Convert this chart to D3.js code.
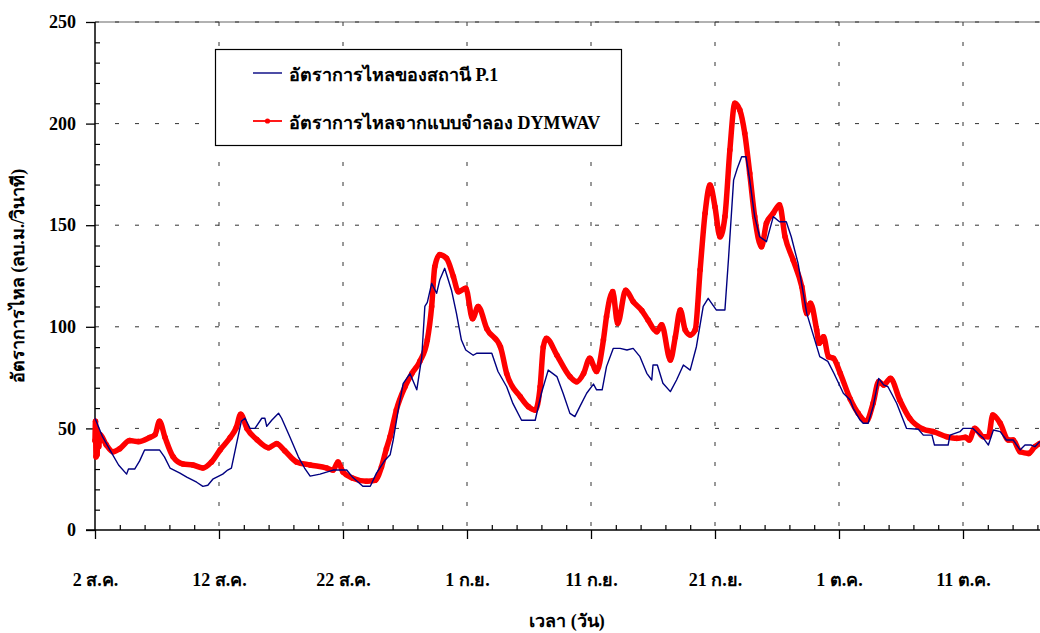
<!DOCTYPE html>
<html>
<head>
<meta charset="utf-8">
<script src="https://cdn.jsdelivr.net/npm/d3@7"></script>
<style>
  html, body { margin: 0; padding: 0; background: #fff; }
  svg { display: block; font-family: "Liberation Serif", "Times New Roman", "DejaVu Serif", serif; font-weight: bold; }
</style>
</head>
<body>
<svg id="chart" width="1040" height="633"></svg>
<script>
// ---- data (days since 2 Aug 00:00, flow in m3/s) ----
const observedDays = [0,0.1,0.6,1.2,1.9,2.55,2.7,3.2,3.6,4.0,5.2,5.6,6.05,6.85,7.4,8.2,8.7,9.1,9.5,10.3,10.7,11.0,11.4,11.8,12.1,12.5,12.9,13.45,13.7,13.85,14.25,14.8,15.05,15.7,16.4,16.9,17.35,18.15,19.2,20.3,20.8,21.6,22.2,22.7,23.4,23.8,24.05,24.5,24.85,25.4,25.95,26.35,26.6,26.8,27.15,27.55,27.8,28.2,28.75,29.15,29.55,29.9,30.5,30.8,32.0,32.5,33.2,33.7,34.4,35.5,36.0,36.55,37.25,37.75,38.3,38.7,39.1,39.65,40.2,40.45,40.9,41.25,41.8,42.35,42.9,43.4,43.95,44.5,44.9,45.0,45.35,45.8,46.4,46.9,47.45,48.0,48.5,49.05,49.45,50.1,50.8,51.1,51.5,51.8,52.15,52.5,52.8,53.2,53.6,54.15,54.7,55.2,55.75,56.15,56.7,57.4,58.45,59.1,59.6,60.35,60.9,61.15,61.7,61.95,62.35,62.75,63.2,63.6,63.95,64.65,65.45,66.4,66.8,67.5,67.7,68.8,68.95,69.75,70.0,70.8,71.2,71.65,72.05,72.45,73.0,73.5,74.05,74.6,75.0,75.5,75.8,76.2];
const observedFlow = [55,53.5,46,39.4,32,27.5,30,30,34,39.4,39.4,36,30.5,28,26,23.5,21.5,22,25,27.5,29.5,30.5,42,53.5,55,50,50,55,55,51,54,57.5,55,46,36,30.5,26.5,27.5,29.5,29.5,25.8,21.5,21.5,28,34.5,37,44.3,60.7,72,77,69,85,110,112,121.4,116.5,123,128.8,118,106.6,93.5,88.6,86,87,87,78,70.5,62.3,54,54,67.3,78.7,75.5,67.3,57.4,55.8,60.7,67.3,71.8,69,69,80.4,89.4,89.4,88.6,89.4,85.3,77.1,73.8,81.2,81.2,72.2,68.1,73.8,81.2,78.7,90.2,110,114,108.3,108.3,134.5,172.2,178,183.7,183.7,172.2,154.2,144.3,141.9,154.2,151.7,151.7,144.3,131.2,106.6,85.3,83,77,67.3,64,59.9,54.1,52.5,52.5,60.7,74.6,71.4,70.5,62.4,50,49.6,46.7,46.7,41.8,41.8,46.7,48.4,50,50,47.6,45.1,41.8,49.2,48.4,44.3,44.3,39.4,41.8,41.8,41,43.5];

const modelDays = [0,0.04,0.08,0.12,0.17,0.22,0.3,0.4,0.9,1.45,2.0,2.8,3.5,4.4,4.85,5.2,5.65,6.3,7.1,7.9,8.7,9.4,10.1,10.9,11.4,11.75,12.25,13.05,14.0,14.65,15.3,16.25,17.35,18.7,19.2,19.6,20.0,20.8,21.9,22.6,23.1,23.5,23.8,24.3,25.0,25.55,26.2,26.8,27.15,27.4,27.8,28.35,28.9,29.3,29.9,30.45,30.9,31.6,32.7,33.2,34.3,34.95,35.5,35.9,36.15,36.4,37.25,38.3,38.85,39.4,39.9,40.45,41.0,41.25,41.75,42.15,42.8,43.4,44.1,44.6,45.3,45.7,46.4,46.8,47.2,47.6,48.0,48.4,48.8,49.2,49.6,50.0,50.4,50.8,51.2,51.6,52.0,52.4,52.8,53.2,53.75,54.15,54.7,55.2,55.65,56.3,57.0,57.4,57.7,58.2,58.4,58.75,59.15,59.55,60.1,60.9,61.55,62.2,62.75,63.2,63.6,64.15,64.9,65.7,66.8,67.6,68.7,69.5,70.2,70.5,70.95,71.65,72.05,72.4,73.0,73.65,74.05,74.6,75.3,75.8,76.2];
const modelFlow = [44,53.5,36,50,37,48,41,47,42,38.5,40,44,43.5,45.5,47,53.5,45.5,36,32.5,32,30.5,33.5,39.5,45.5,50.5,57,50,44.5,40.5,42.5,39,33.5,32,30.5,29.5,33.5,28.5,25.5,24,24.5,31,40,46,59,70.5,77,83,93.5,110,129.5,135.5,133.7,124.7,117.3,119,104,110,99,90,77,65.6,60.7,59,70.5,90,94.3,86,75.5,73,77,84.5,78,93.5,105,117.3,101.7,118,112.4,108,103.3,97.6,101,83.7,95,108.3,98.4,96,98.4,128,155.9,169.8,159,144.3,154.2,187,210,206.7,195.2,175.5,154.2,139.4,151,155.9,160,144.3,132.9,119.7,106.6,111.6,98.4,91.9,95.1,85.3,84.5,77.1,64.5,57.4,53.5,62.4,73,71.4,74.6,64,55,49.6,48.4,45.9,45.1,45.6,44.3,50,45.9,45.9,56.6,52.5,44.3,44.3,38.5,37.7,41,42.6];

const xTickDays = [0,10,20,30,40,50,60,70];
const xTickLabels = ["2 ส.ค.","12 ส.ค.","22 ส.ค.","1 ก.ย.","11 ก.ย.","21 ก.ย.","1 ต.ค.","11 ต.ค."];
const yTicks = [0,50,100,150,200,250];
const seriesNames = ["อัตราการไหลของสถานี P.1","อัตราการไหลจากแบบจำลอง DYMWAV"];
const yTitle = "อัตราการไหล (ลบ.ม./วินาที)";
const xTitle = "เวลา (วัน)";

// ---- layout ----
const svg = d3.select("#chart");
const plotLeft = 95, plotBottom = 530, plotTop = 22;
const x = d3.scaleLinear().domain([0, 77]).range([plotLeft, plotLeft + 12.4 * 77]);
const y = d3.scaleLinear().domain([0, 250]).range([plotBottom, plotTop]);
const xEnd = 1040;

// top border (gray)
svg.append("line").attr("x1", plotLeft).attr("x2", xEnd).attr("y1", y(250)).attr("y2", y(250))
  .attr("stroke", "#999").attr("stroke-width", 1.3);

// gridlines
const grid = svg.append("g").attr("stroke", "#333").attr("stroke-width", 1).attr("stroke-dasharray", "4,16");
yTicks.filter(t => t > 0).forEach(t => {
  grid.append("line").attr("x1", plotLeft).attr("x2", xEnd).attr("y1", y(t)).attr("y2", y(t));
});
xTickDays.filter(t => t > 0).forEach(t => {
  grid.append("line").attr("x1", x(t)).attr("x2", x(t)).attr("y1", plotTop).attr("y2", plotBottom);
});

const fontFam = "'Liberation Serif', 'Times New Roman', serif";

// y axis
const yAxis = d3.axisLeft(y).tickValues(yTicks).tickSize(9).tickPadding(10).tickFormat(d3.format("d"));
const gy = svg.append("g").attr("transform", `translate(${plotLeft},0)`).call(yAxis);
gy.select(".domain").remove();
gy.selectAll(".tick line").attr("stroke", "#000").attr("stroke-width", 1.3);
gy.selectAll(".tick text").attr("font-size", 18).attr("font-weight", "bold").attr("fill", "#000")
  .attr("font-family", fontFam);
const yMinor = d3.axisRight(y).tickValues(d3.range(0, 251, 10).filter(v => v % 50 !== 0)).tickSize(5).tickFormat("");
const gym = svg.append("g").attr("transform", `translate(${plotLeft},0)`).call(yMinor);
gym.select(".domain").remove();
gym.selectAll(".tick line").attr("stroke", "#000").attr("stroke-width", 1.2);
svg.append("line").attr("x1", plotLeft).attr("x2", plotLeft).attr("y1", plotTop).attr("y2", plotBottom + 0.5)
  .attr("stroke", "#000").attr("stroke-width", 1.5);

// x axis
const xAxis = d3.axisBottom(x).tickValues(xTickDays).tickSize(9).tickPadding(34)
  .tickFormat((d, i) => xTickLabels[i]);
const gx = svg.append("g").attr("transform", `translate(0,${plotBottom})`).call(xAxis);
gx.select(".domain").remove();
gx.selectAll(".tick line").attr("stroke", "#000").attr("stroke-width", 1.3);
gx.selectAll(".tick text").attr("font-size", 18).attr("font-weight", "bold").attr("fill", "#000")
  .attr("font-family", fontFam);
const xMinor = d3.axisTop(x).tickValues(d3.range(2, 77, 2).filter(v => v % 10 !== 0)).tickSize(5).tickFormat("");
const gxm = svg.append("g").attr("transform", `translate(0,${plotBottom})`).call(xMinor);
gxm.select(".domain").remove();
gxm.selectAll(".tick line").attr("stroke", "#000").attr("stroke-width", 1.2);
svg.append("line").attr("x1", plotLeft - 9).attr("x2", xEnd).attr("y1", plotBottom).attr("y2", plotBottom)
  .attr("stroke", "#000").attr("stroke-width", 1.5);

// series
const obs = observedDays.map((d, i) => [d, observedFlow[i]]);
const mod = modelDays.map((d, i) => [d, modelFlow[i]]);

svg.append("path").datum(mod)
  .attr("fill", "none").attr("stroke", "#ff0000").attr("stroke-width", 5.5)
  .attr("stroke-linejoin", "round").attr("stroke-linecap", "round")
  .attr("d", d3.line().x(d => x(d[0])).y(d => y(d[1])).curve(d3.curveMonotoneX));
svg.append("g").selectAll("circle").data(mod).join("circle")
  .attr("cx", d => x(d[0])).attr("cy", d => y(d[1])).attr("r", 2.8).attr("fill", "#ff0000");

svg.append("path").datum(obs)
  .attr("fill", "none").attr("stroke", "#000080").attr("stroke-width", 1.4)
  .attr("stroke-linejoin", "round")
  .attr("d", d3.line().x(d => x(d[0])).y(d => y(d[1])));

// legend
const lg = svg.append("g");
lg.append("rect").attr("x", 215.5).attr("y", 49.5).attr("width", 406).attr("height", 96)
  .attr("fill", "#fff").attr("stroke", "#000").attr("stroke-width", 1.2);
lg.append("line").attr("x1", 253).attr("x2", 282).attr("y1", 73).attr("y2", 73)
  .attr("stroke", "#000080").attr("stroke-width", 1.4);
lg.append("line").attr("x1", 253).attr("x2", 282).attr("y1", 121).attr("y2", 121)
  .attr("stroke", "#ff0000").attr("stroke-width", 1.8);
lg.append("circle").attr("cx", 267.5).attr("cy", 121).attr("r", 2.6).attr("fill", "#ff0000");
lg.append("text").attr("x", 289).attr("y", 81).attr("font-size", 18).attr("fill", "#000").text(seriesNames[0]);
lg.append("text").attr("x", 289).attr("y", 129).attr("font-size", 18).attr("fill", "#000").text(seriesNames[1]);

// titles
svg.append("text").attr("transform", "translate(24,276) rotate(-90)").attr("text-anchor", "middle")
  .attr("font-size", 18).attr("fill", "#000").text(yTitle);
svg.append("text").attr("x", 567).attr("y", 627).attr("text-anchor", "middle")
  .attr("font-size", 18).attr("fill", "#000").text(xTitle);
</script>
</body>
</html>
